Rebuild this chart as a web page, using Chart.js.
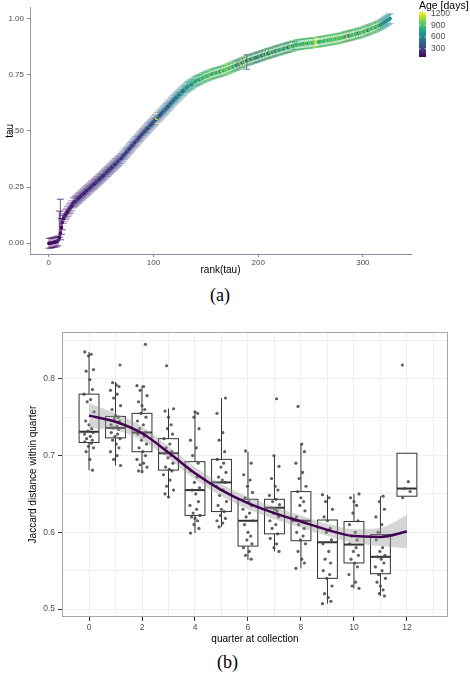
<!DOCTYPE html>
<html>
<head>
<meta charset="utf-8">
<script src="https://cdn.jsdelivr.net/npm/chart.js@4.4.1/dist/chart.umd.min.js"></script>
<style>
  html, body { margin: 0; padding: 0; background: #fff; width: 470px; height: 674px; overflow: hidden; }
  body { position: relative; }
  #chartA { position: absolute; left: 0; top: 0; }
  #chartB { position: absolute; left: 0; top: 310px; }
  .panel-label { position: absolute; font-family: "Liberation Serif", "DejaVu Serif", serif; font-size: 18px; line-height: 18px; color: #000; }
</style>
</head>
<body>
<canvas id="chartA" width="470" height="280"></canvas>
<div class="panel-label" style="left:210px; top:286px;">(a)</div>
<canvas id="chartB" width="470" height="340"></canvas>
<div class="panel-label" style="left:217px; top:653px;">(b)</div>

<script>
// ---- panel (a): tau by rank, coloured by age ----
const tau = [
  0.000,0.000,0.000,0.002,0.003,0.004,0.005,0.006,0.008,0.012,
  0.025,0.045,0.070,0.092,0.110,0.120,0.128,0.134,0.141,0.148,
  0.154,0.160,0.167,0.178,0.182,0.186,0.190,0.194,0.199,0.203,
  0.207,0.212,0.216,0.220,0.224,0.229,0.233,0.237,0.241,0.245,
  0.250,0.254,0.258,0.262,0.266,0.271,0.275,0.279,0.284,0.288,
  0.292,0.297,0.301,0.306,0.310,0.315,0.319,0.323,0.328,0.332,
  0.337,0.341,0.346,0.350,0.355,0.359,0.364,0.368,0.373,0.377,
  0.383,0.388,0.394,0.399,0.404,0.410,0.415,0.420,0.426,0.431,
  0.437,0.442,0.447,0.453,0.458,0.463,0.469,0.474,0.479,0.485,
  0.490,0.495,0.500,0.505,0.510,0.515,0.520,0.525,0.530,0.535,
  0.540,0.545,0.550,0.555,0.560,0.565,0.570,0.575,0.580,0.585,
  0.590,0.595,0.600,0.605,0.610,0.615,0.620,0.625,0.630,0.636,
  0.641,0.645,0.650,0.654,0.659,0.663,0.668,0.672,0.677,0.681,
  0.686,0.690,0.694,0.698,0.701,0.704,0.707,0.710,0.714,0.717,
  0.720,0.723,0.725,0.727,0.729,0.731,0.734,0.736,0.738,0.740,
  0.742,0.744,0.746,0.748,0.750,0.752,0.753,0.755,0.756,0.758,
  0.759,0.760,0.762,0.763,0.764,0.766,0.767,0.769,0.770,0.772,
  0.774,0.776,0.778,0.780,0.782,0.784,0.786,0.788,0.790,0.792,
  0.794,0.796,0.798,0.800,0.802,0.804,0.806,0.808,0.810,0.812,
  0.814,0.816,0.817,0.819,0.820,0.822,0.824,0.825,0.827,0.828,
  0.830,0.831,0.833,0.835,0.836,0.838,0.839,0.841,0.842,0.844,
  0.845,0.847,0.848,0.850,0.851,0.853,0.854,0.856,0.857,0.859,
  0.860,0.861,0.863,0.864,0.865,0.867,0.868,0.870,0.871,0.872,
  0.874,0.875,0.876,0.878,0.879,0.881,0.882,0.883,0.884,0.884,
  0.885,0.886,0.886,0.887,0.888,0.888,0.889,0.889,0.890,0.891,
  0.891,0.892,0.892,0.893,0.894,0.894,0.895,0.895,0.896,0.897,
  0.898,0.898,0.899,0.900,0.901,0.902,0.903,0.903,0.904,0.905,
  0.906,0.907,0.908,0.908,0.909,0.910,0.911,0.912,0.912,0.914,
  0.915,0.916,0.918,0.919,0.920,0.921,0.923,0.924,0.925,0.926,
  0.928,0.929,0.930,0.931,0.932,0.934,0.935,0.936,0.937,0.939,
  0.940,0.942,0.944,0.946,0.948,0.949,0.951,0.953,0.955,0.957,
  0.958,0.960,0.962,0.964,0.966,0.968,0.970,0.973,0.976,0.979,
  0.982,0.985,0.988,0.991,0.994,0.997,1.000
];
const ages = [
  150,90,120,200,110,180,95,160,130,220,
  140,170,100,210,130,240,160,190,120,250,
  180,230,150,300,170,260,140,320,200,190,
  250,160,350,210,140,280,230,170,310,200,
  260,180,380,220,150,300,240,420,190,270,
  210,330,160,290,250,400,180,350,230,280,
  310,200,450,260,190,370,300,240,500,220,
  280,350,210,420,300,260,480,230,330,390,
  250,440,310,200,520,280,360,230,410,300,
  350,480,270,560,320,240,600,380,290,450,
  330,520,260,1150,410,640,300,470,380,550,
  430,620,350,700,290,480,560,380,650,420,
  520,700,380,600,750,450,680,820,400,560,
  700,850,480,760,620,900,540,780,680,950,
  620,880,720,980,560,850,1000,700,920,780,
  1050,680,900,820,1100,740,960,600,1000,850,
  920,700,1080,800,650,950,1120,760,880,1000,
  820,1150,700,960,880,1050,620,900,1000,760,
  400,950,350,1080,860,300,980,720,1100,450,
  380,880,1000,320,920,700,1050,420,860,350,
  940,400,1020,760,380,980,880,450,1100,800,
  350,920,700,1050,400,980,820,300,1000,760,
  900,420,1080,680,950,380,860,1000,720,440,
  960,800,1100,520,880,760,1000,620,920,840,
  1020,700,880,960,600,1080,820,940,740,1000,
  880,1060,720,960,840,1180,1240,1000,780,920,
  660,1000,840,950,700,1080,900,780,1020,860,
  980,720,1060,880,940,800,1100,760,1000,920,
  840,1050,700,980,400,1100,880,350,1020,760,
  960,820,1080,700,1000,900,440,1060,780,940,
  1000,860,720,1080,900,380,960,820,1040,700,
  920,1060,600,880,1000,740,960,420,820,700,
  600,760,520,680,640,700,620
];
const tauErr = 0.022;              // usual half-width of the error bars
const wideRanks = [10, 11, 12, 13, 189, 235];
const wideLo = [0.027, 0.015, 0.040, 0.060, 0.774, 0.862];
const wideHi = [0.143, 0.196, 0.110, 0.125, 0.839, 0.897];
const rankTicks = [0, 100, 200, 300];
const tauTicks = [0, 0.25, 0.5, 0.75, 1];
const ageLegendTicks = [300, 600, 900, 1200];

// ---- panel (b): Jaccard distance by quarter ----
const quarters = [0, 1, 2, 3, 4, 5, 6, 7, 8, 9, 10, 11, 12];
const boxMin = [0.681, 0.687, 0.679, 0.645, 0.599, 0.607, 0.564, 0.575, 0.553, 0.507, 0.527, 0.517, 0.647];
const boxQ1  = [0.717, 0.723, 0.705, 0.681, 0.622, 0.627, 0.582, 0.598, 0.589, 0.540, 0.560, 0.546, 0.647];
const boxMed = [0.731, 0.736, 0.730, 0.703, 0.655, 0.665, 0.615, 0.632, 0.615, 0.587, 0.584, 0.568, 0.657];
const boxQ3  = [0.780, 0.751, 0.755, 0.722, 0.692, 0.695, 0.643, 0.643, 0.653, 0.616, 0.614, 0.597, 0.703];
const boxMax = [0.835, 0.796, 0.791, 0.761, 0.757, 0.775, 0.705, 0.700, 0.715, 0.649, 0.650, 0.647, 0.703];
const smoothFit = [0.752, 0.744, 0.729, 0.704, 0.677, 0.655, 0.638, 0.625, 0.614, 0.603, 0.595, 0.594, 0.601];
const smoothSE  = [0.016, 0.011, 0.009, 0.008, 0.008, 0.008, 0.008, 0.008, 0.008, 0.008, 0.009, 0.012, 0.022];
const jaccard = [
  [0.835,0.832,0.830,0.812,0.810,0.799,0.786,0.780,0.773,0.770,0.757,0.745,0.740,0.735,0.732,0.730,0.728,0.725,0.722,0.720,0.718,0.716,0.712,0.710,0.705,0.695,0.681],
  [0.818,0.795,0.792,0.790,0.785,0.780,0.775,0.765,0.760,0.752,0.750,0.748,0.745,0.740,0.738,0.736,0.734,0.730,0.728,0.725,0.722,0.720,0.715,0.710,0.705,0.700,0.695,0.687],
  [0.845,0.791,0.790,0.785,0.778,0.770,0.765,0.760,0.755,0.750,0.745,0.740,0.735,0.730,0.728,0.725,0.720,0.715,0.710,0.705,0.700,0.695,0.690,0.688,0.685,0.680,0.679],
  [0.817,0.761,0.758,0.750,0.740,0.735,0.728,0.722,0.715,0.710,0.705,0.703,0.700,0.697,0.690,0.685,0.682,0.680,0.675,0.668,0.660,0.655,0.650,0.646],
  [0.757,0.755,0.750,0.735,0.720,0.710,0.700,0.690,0.680,0.672,0.665,0.658,0.655,0.650,0.640,0.635,0.630,0.625,0.622,0.620,0.618,0.615,0.610,0.605,0.599],
  [0.775,0.755,0.730,0.720,0.705,0.695,0.690,0.685,0.678,0.672,0.668,0.665,0.660,0.655,0.648,0.640,0.635,0.630,0.627,0.622,0.618,0.615,0.612,0.607],
  [0.706,0.690,0.675,0.668,0.660,0.652,0.645,0.640,0.635,0.630,0.625,0.620,0.615,0.610,0.600,0.595,0.590,0.585,0.580,0.575,0.570,0.565],
  [0.774,0.700,0.686,0.670,0.660,0.655,0.648,0.643,0.640,0.636,0.632,0.630,0.628,0.625,0.620,0.615,0.610,0.605,0.598,0.592,0.585,0.580,0.575],
  [0.764,0.715,0.705,0.690,0.678,0.670,0.660,0.653,0.645,0.640,0.635,0.628,0.620,0.615,0.610,0.605,0.600,0.595,0.590,0.585,0.575,0.565,0.560,0.553],
  [0.649,0.645,0.640,0.630,0.620,0.615,0.605,0.600,0.590,0.585,0.575,0.565,0.560,0.550,0.545,0.540,0.530,0.520,0.515,0.510,0.507],
  [0.650,0.645,0.640,0.635,0.625,0.615,0.610,0.600,0.595,0.590,0.585,0.580,0.575,0.570,0.565,0.560,0.555,0.545,0.535,0.530,0.527],
  [0.647,0.640,0.630,0.620,0.610,0.600,0.595,0.590,0.580,0.575,0.570,0.568,0.565,0.560,0.555,0.550,0.545,0.540,0.535,0.530,0.525,0.520,0.517],
  [0.818,0.666,0.657,0.653,0.645]
];
const quarterTicks = [0, 2, 4, 6, 8, 10, 12];
const distTicks = [0.5, 0.6, 0.7, 0.8];

// ---- styling helpers ----
const FONT = '"Liberation Sans", Arial, sans-serif';
const VIRIDIS = ['#440154','#482475','#414487','#355f8d','#2a788e','#21918c','#22a884','#44bf70','#7ad151','#bddf26','#fde725'];
const JITTER = [-0.16, 0.08, -0.02, 0.17, -0.11, 0.03, 0.13, -0.19, 0.06, -0.07, 0.19, -0.13, 0.0, 0.10, -0.04, 0.15, -0.17, 0.05, -0.09, 0.12];

function hexRgb(c) {
  return [parseInt(c.slice(1, 3), 16), parseInt(c.slice(3, 5), 16), parseInt(c.slice(5, 7), 16)];
}
function viridis(t, a) {
  t = Math.max(0, Math.min(1, t));
  const p = t * (VIRIDIS.length - 1);
  const i = Math.min(Math.floor(p), VIRIDIS.length - 2);
  const f = p - i;
  const c0 = hexRgb(VIRIDIS[i]), c1 = hexRgb(VIRIDIS[i + 1]);
  const c = c0.map((v, k) => Math.round(v + (c1[k] - v) * f));
  return `rgba(${c[0]},${c[1]},${c[2]},${a})`;
}
const ageMin = Math.min(...ages), ageMax = Math.max(...ages);
const ageT = a => (a - ageMin) / (ageMax - ageMin);

Chart.defaults.font.family = FONT;

// Error bars under the points
const errorBarPlugin = {
  id: 'errorBars',
  beforeDatasetsDraw(chart) {
    const { ctx, chartArea, scales: { x, y } } = chart;
    ctx.save();
    ctx.beginPath();
    ctx.rect(chartArea.left, chartArea.top, chartArea.width, chartArea.height);
    ctx.clip();
    ctx.lineWidth = 0.9;
    tau.forEach((t, i) => {
      const k = wideRanks.indexOf(i);
      const lo = k >= 0 ? wideLo[k] : t - tauErr;
      const hi = k >= 0 ? wideHi[k] : t + tauErr;
      const px = x.getPixelForValue(i);
      const y0 = y.getPixelForValue(lo), y1 = y.getPixelForValue(hi);
      ctx.strokeStyle = viridis(ageT(ages[i]), k >= 0 ? 0.85 : 0.5);
      ctx.beginPath();
      ctx.moveTo(px, y0); ctx.lineTo(px, y1);
      ctx.moveTo(px - 3.5, y0); ctx.lineTo(px + 3.5, y0);
      ctx.moveTo(px - 3.5, y1); ctx.lineTo(px + 3.5, y1);
      ctx.stroke();
    });
    ctx.restore();
  }
};

// Age colour bar on the right
const colorBarPlugin = {
  id: 'colorBar',
  afterDraw(chart) {
    const { ctx } = chart;
    const bx = 419, bw = 7, top = 12, bot = 57;
    ctx.save();
    const g = ctx.createLinearGradient(0, bot, 0, top);
    VIRIDIS.forEach((c, i) => g.addColorStop(i / (VIRIDIS.length - 1), c));
    ctx.fillStyle = g;
    ctx.fillRect(bx, top, bw, bot - top);
    ctx.font = '8.5px ' + FONT;
    ctx.textAlign = 'left';
    ctx.textBaseline = 'middle';
    ageLegendTicks.forEach(v => {
      const yy = bot - ageT(v) * (bot - top);
      ctx.strokeStyle = '#fff';
      ctx.lineWidth = 0.7;
      ctx.beginPath();
      ctx.moveTo(bx, yy); ctx.lineTo(bx + 1.5, yy);
      ctx.moveTo(bx + bw - 1.5, yy); ctx.lineTo(bx + bw, yy);
      ctx.stroke();
      ctx.fillStyle = '#4d4d4d';
      ctx.fillText(String(v), bx + 12, yy);
    });
    ctx.fillStyle = '#000';
    ctx.font = '10.5px ' + FONT;
    ctx.fillText('Age [days]', 419, 6);
    ctx.restore();
  }
};

new Chart(document.getElementById('chartA'), {
  type: 'scatter',
  data: {
    datasets: [{
      data: tau.map((t, i) => ({ x: i, y: t })),
      pointBackgroundColor: ages.map(a => viridis(ageT(a), 1)),
      pointBorderWidth: 0,
      pointRadius: 1.8
    }]
  },
  options: {
    responsive: false,
    animation: false,
    layout: { padding: { left: 0, top: 2, right: 59, bottom: 0 } },
    plugins: { legend: { display: false }, tooltip: { enabled: false } },
    scales: {
      x: {
        type: 'linear', min: -18, max: 346,
        afterBuildTicks: s => { s.ticks = rankTicks.map(v => ({ value: v })); },
        afterFit: s => { s.height = 26; },
        grid: { display: true, drawOnChartArea: false, drawTicks: true, tickLength: 3, color: '#888' },
        border: { display: true, color: '#8a8aa6', width: 1 },
        ticks: { font: { size: 8 }, color: '#4d4d4d', padding: 1, maxRotation: 0 },
        title: { display: true, text: 'rank(tau)', font: { size: 10 }, color: '#000', padding: { top: 0, bottom: 4 } }
      },
      y: {
        type: 'linear', min: -0.048, max: 1.048,
        afterBuildTicks: s => { s.ticks = tauTicks.map(v => ({ value: v })); },
        afterFit: s => { s.width = 30; },
        grid: { display: true, drawOnChartArea: false, drawTicks: true, tickLength: 3, color: '#888' },
        border: { display: true, color: '#999', width: 1 },
        ticks: { font: { size: 8 }, color: '#4d4d4d', padding: 3, callback: v => Number(v).toFixed(2) },
        title: { display: true, text: 'tau', font: { size: 10 }, color: '#000', padding: { top: 4, bottom: 0 } }
      }
    }
  },
  plugins: [errorBarPlugin, colorBarPlugin]
});

// Box plots, drawn under the points and smoother
const boxPlugin = {
  id: 'boxes',
  beforeDatasetsDraw(chart) {
    const { ctx, scales: { x, y } } = chart;
    ctx.save();
    quarters.forEach((q, i) => {
      const cx = x.getPixelForValue(q);
      const hw = x.getPixelForValue(q + 0.375) - cx;
      const yq1 = y.getPixelForValue(boxQ1[i]), yq3 = y.getPixelForValue(boxQ3[i]);
      const ymed = y.getPixelForValue(boxMed[i]);
      ctx.strokeStyle = '#333';
      ctx.lineWidth = 1;
      ctx.beginPath();
      ctx.moveTo(cx, yq3); ctx.lineTo(cx, y.getPixelForValue(boxMax[i]));
      ctx.moveTo(cx, yq1); ctx.lineTo(cx, y.getPixelForValue(boxMin[i]));
      ctx.stroke();
      ctx.fillStyle = '#fff';
      ctx.fillRect(cx - hw, yq3, hw * 2, yq1 - yq3);
      ctx.strokeRect(cx - hw, yq3, hw * 2, yq1 - yq3);
      ctx.lineWidth = 2;
      ctx.beginPath();
      ctx.moveTo(cx - hw, ymed); ctx.lineTo(cx + hw, ymed);
      ctx.stroke();
    });
    ctx.restore();
  },
  afterDraw(chart) {
    const { ctx, chartArea: a } = chart;
    ctx.save();
    ctx.strokeStyle = '#a6a6a6';
    ctx.lineWidth = 1;
    ctx.strokeRect(a.left + 0.5, a.top + 0.5, a.width - 1, a.height - 1);
    ctx.restore();
  }
};

const jitterPoints = [];
jaccard.forEach((vals, qi) => {
  vals.forEach((v, j) => {
    jitterPoints.push({ x: quarters[qi] + JITTER[(j + qi * 3) % JITTER.length], y: v });
  });
});

const xGridB = [];
for (let v = -1; v <= 13; v++) xGridB.push(v);
const yGridB = [];
for (let v = 50; v <= 85; v += 5) yGridB.push(v / 100);
const isMajorX = v => quarterTicks.includes(v);
const isMajorY = v => distTicks.some(t => Math.abs(t - v) < 1e-6);

new Chart(document.getElementById('chartB'), {
  type: 'scatter',
  data: {
    datasets: [
      {
        data: jitterPoints,
        pointBackgroundColor: 'rgba(68,68,68,0.85)',
        pointBorderWidth: 0,
        pointRadius: 1.6,
        order: 3
      },
      {
        type: 'line',
        data: quarters.map((q, i) => ({ x: q, y: smoothFit[i] - smoothSE[i] })),
        borderWidth: 0, pointRadius: 0, fill: false,
        cubicInterpolationMode: 'monotone',
        order: 2
      },
      {
        type: 'line',
        data: quarters.map((q, i) => ({ x: q, y: smoothFit[i] + smoothSE[i] })),
        borderWidth: 0, pointRadius: 0, fill: '-1',
        backgroundColor: 'rgba(153,153,153,0.4)',
        cubicInterpolationMode: 'monotone',
        order: 2
      },
      {
        type: 'line',
        data: quarters.map((q, i) => ({ x: q, y: smoothFit[i] })),
        borderColor: '#440154', borderWidth: 2.5, pointRadius: 0, fill: false,
        cubicInterpolationMode: 'monotone',
        order: 1
      }
    ]
  },
  options: {
    responsive: false,
    animation: false,
    layout: { padding: { left: 23, top: 22, right: 22, bottom: 1 } },
    plugins: { legend: { display: false }, tooltip: { enabled: false } },
    scales: {
      x: {
        type: 'linear', min: -1.02, max: 13.55,
        afterBuildTicks: s => { s.ticks = xGridB.map(v => ({ value: v })); },
        afterFit: s => { s.height = 32; },
        grid: {
          color: '#ebebeb', lineWidth: 0.8, tickLength: 4,
          tickColor: c => (c.tick && isMajorX(c.tick.value)) ? '#333' : 'rgba(0,0,0,0)',
          tickWidth: 1
        },
        border: { display: false },
        ticks: { font: { size: 8.5 }, color: '#4d4d4d', padding: 2, maxRotation: 0, autoSkip: false,
                 callback: v => isMajorX(v) ? String(v) : '' },
        title: { display: true, text: 'quarter at collection', font: { size: 10 }, color: '#000', padding: { top: 0, bottom: 4 } }
      },
      y: {
        type: 'linear', min: 0.4896, max: 0.861,
        afterBuildTicks: s => { s.ticks = yGridB.map(v => ({ value: v })); },
        afterFit: s => { s.width = 39; },
        grid: {
          color: '#ebebeb', lineWidth: 0.8, tickLength: 4,
          tickColor: c => (c.tick && isMajorY(c.tick.value)) ? '#333' : 'rgba(0,0,0,0)',
          tickWidth: 1
        },
        border: { display: false },
        ticks: { font: { size: 8.5 }, color: '#4d4d4d', padding: 3, autoSkip: false,
                 callback: v => isMajorY(v) ? Number(v).toFixed(1) : '' },
        title: { display: true, text: 'Jaccard distance within quarter', font: { size: 10 }, color: '#000', padding: { top: 4, bottom: 0 } }
      }
    }
  },
  plugins: [boxPlugin]
});
</script>
</body>
</html>
